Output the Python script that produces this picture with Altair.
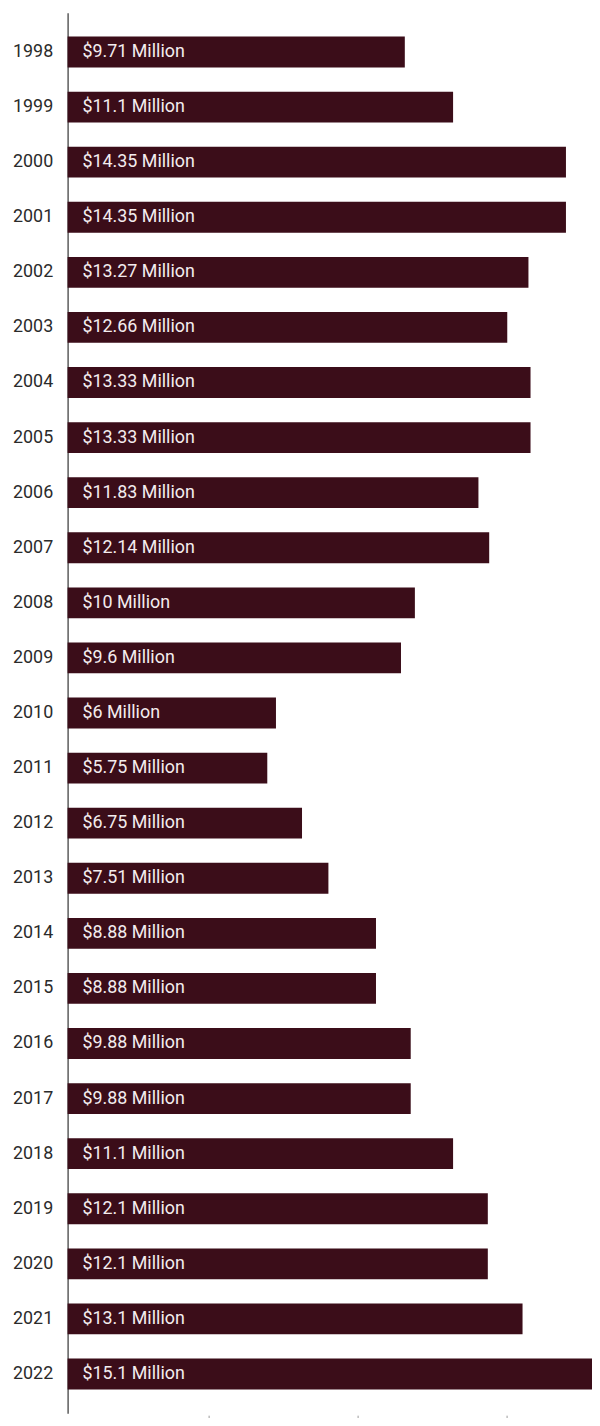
import altair as alt
import pandas as pd

years = [str(y) for y in range(1998, 2023)]
values = [9.71, 11.1, 14.35, 14.35, 13.27, 12.66, 13.33, 13.33, 11.83, 12.14,
          10, 9.6, 6, 5.75, 6.75, 7.51, 8.88, 8.88, 9.88, 9.88,
          11.1, 12.1, 12.1, 13.1, 15.1]
labels = ["$9.71 Million", "$11.1 Million", "$14.35 Million", "$14.35 Million",
          "$13.27 Million", "$12.66 Million", "$13.33 Million", "$13.33 Million",
          "$11.83 Million", "$12.14 Million", "$10 Million", "$9.6 Million",
          "$6 Million", "$5.75 Million", "$6.75 Million", "$7.51 Million",
          "$8.88 Million", "$8.88 Million", "$9.88 Million", "$9.88 Million",
          "$11.1 Million", "$12.1 Million", "$12.1 Million", "$13.1 Million",
          "$15.1 Million"]
x_tick_values = [4.06, 8.35, 12.64]

df = pd.DataFrame({"year": years, "value": values, "label": labels})

FONT = "Roboto"
BAR = "#3b0d19"

y_scale = alt.Scale(paddingInner=0.44, paddingOuter=0.432)
x_scale = alt.Scale(domain=[0, 15.1], nice=False, zero=True)

x_axis = alt.Axis(values=x_tick_values, labels=False, domain=False,
                  grid=False, ticks=True, tickSize=6, tickColor="#9a9a9a",
                  tickWidth=1, offset=2, title=None)
y_axis = alt.Axis(domain=True, domainColor="#333333", domainWidth=1.2,
                  ticks=False, grid=False, labelPadding=15, labelFontSize=18,
                  labelFont=FONT, labelColor="#2b2b2b", title=None)

bars = alt.Chart(df).mark_bar(color=BAR).encode(
    x=alt.X("value:Q", scale=x_scale, title=None, axis=x_axis),
    y=alt.Y("year:N", sort=years, title=None, scale=y_scale, axis=y_axis),
)

text = alt.Chart(df).mark_text(align="left", baseline="middle", dx=15,
                               font=FONT, fontSize=18, color="#f3ecee").encode(
    x=alt.X(datum=0, scale=x_scale, title=None, axis=x_axis),
    y=alt.Y("year:N", sort=years, scale=y_scale, title=None, axis=y_axis),
    text="label:N",
)

chart = (bars + text).properties(
    width=528, height=1410,
    background="white",
    autosize=alt.AutoSizeParams(type="none"),
    padding={"left": 60, "top": 0, "right": 0, "bottom": 0},
).configure(view=alt.ViewConfig(stroke=None),
            axis=alt.AxisConfig(grid=False))

chart.save("out.html", embed_options={"renderer": "svg", "actions": False})
